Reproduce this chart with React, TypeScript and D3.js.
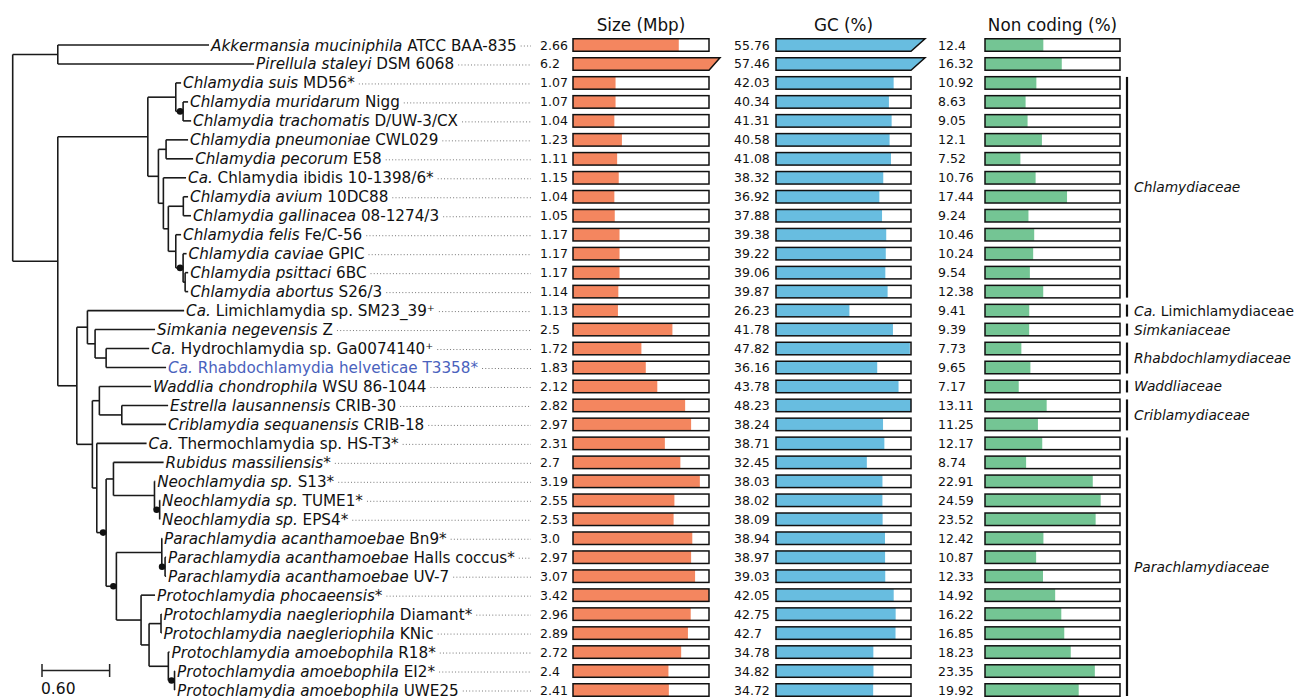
import { useEffect, useRef } from "react";
import * as d3 from "d3";

// tree topology, leaves are row indices, "*" marks the nodes with a dot
const newick =
  "((0:1.342,1:1.742):0.40," +
  "(((2:0.047,(3:0.044,4:0.071)*:0.065):0.248," +
  "((5:0.195,6:0.240):0.068,(7:0.201,((8:0.042,9:0.068):0.133,(10:0.047,(11:0.031,(12:0.027,13:0.027):0.018)*:0.065):0.066):0.044):0.044):0.094):0.799," +
  "((14:0.858,(15:0.532,(16:0.382,17:0.532):0.098):0.068):0.094," +
  "((18:0.459,(19:0.411,20:0.393):0.199):0.062," +
  "(21:0.442,((22:0.445,(23:0.006,(24:0.004,25:0.004)*:0.046):0.364):0.065," +
  "((26:0.002,(27:0.009,28:0.009)*:0.029):0.403,(29:0.124,((30:0.004,31:0.004):0.106,(32:0.011,(33:0.004,34:0.004)*:0.055):0.171):0.071):0.219)*:0.091)*:0.083):0.039):0.138):0.169):0.40);";

const italicNames = [
  "Akkermansia muciniphila", "Pirellula staleyi", "Chlamydia suis", "Chlamydia muridarum",
  "Chlamydia trachomatis", "Chlamydia pneumoniae", "Chlamydia pecorum", "Ca.",
  "Chlamydia avium", "Chlamydia gallinacea", "Chlamydia felis", "Chlamydia caviae",
  "Chlamydia psittaci", "Chlamydia abortus", "Ca.", "Simkania negevensis",
  "Ca.", "Ca.", "Waddlia chondrophila", "Estrella lausannensis",
  "Criblamydia sequanensis", "Ca.", "Rubidus massiliensis*", "Neochlamydia sp.",
  "Neochlamydia sp.", "Neochlamydia sp.", "Parachlamydia acanthamoebae", "Parachlamydia acanthamoebae",
  "Parachlamydia acanthamoebae", "Protochlamydia phocaeensis*", "Protochlamydia naegleriophila", "Protochlamydia naegleriophila",
  "Protochlamydia amoebophila", "Protochlamydia amoebophila", "Protochlamydia amoebophila",
];

const strainNames = [
  " ATCC BAA-835", " DSM 6068", " MD56*", " Nigg",
  " D/UW-3/CX", " CWL029", " E58", " Chlamydia ibidis 10-1398/6*",
  " 10DC88", " 08-1274/3", " Fe/C-56", " GPIC",
  " 6BC", " S26/3", " Limichlamydia sp. SM23_39\u207A", " Z",
  " Hydrochlamydia sp. Ga0074140\u207A", " Rhabdochlamydia helveticae T3358*", " WSU 86-1044", " CRIB-30",
  " CRIB-18", " Thermochlamydia sp. HS-T3*", "", " S13*",
  " TUME1*", " EPS4*", " Bn9*", " Halls coccus*",
  " UV-7", "", " Diamant*", " KNic",
  " R18*", " EI2*", " UWE25",
];

const highlighted = [17];

const genomeSize = [2.66, 6.2, 1.07, 1.07, 1.04, 1.23, 1.11, 1.15, 1.04, 1.05, 1.17, 1.17, 1.17, 1.14,
  1.13, 2.5, 1.72, 1.83, 2.12, 2.82, 2.97, 2.31, 2.7, 3.19, 2.55, 2.53, 3.0, 2.97, 3.07, 3.42,
  2.96, 2.89, 2.72, 2.4, 2.41];
const gcContent = [55.76, 57.46, 42.03, 40.34, 41.31, 40.58, 41.08, 38.32, 36.92, 37.88, 39.38, 39.22,
  39.06, 39.87, 26.23, 41.78, 47.82, 36.16, 43.78, 48.23, 38.24, 38.71, 32.45, 38.03, 38.02, 38.09,
  38.94, 38.97, 39.03, 42.05, 42.75, 42.7, 34.78, 34.82, 34.72];
const nonCoding = [12.4, 16.32, 10.92, 8.63, 9.05, 12.1, 7.52, 10.76, 17.44, 9.24, 10.46, 10.24, 9.54,
  12.38, 9.41, 9.39, 7.73, 9.65, 7.17, 13.11, 11.25, 12.17, 8.74, 22.91, 24.59, 23.52, 12.42, 10.87,
  12.33, 14.92, 16.22, 16.85, 18.23, 23.35, 19.92];
// formatted as printed in the figure
const genomeSizeText = ["2.66", "6.2", "1.07", "1.07", "1.04", "1.23", "1.11", "1.15", "1.04", "1.05",
  "1.17", "1.17", "1.17", "1.14", "1.13", "2.5", "1.72", "1.83", "2.12", "2.82", "2.97", "2.31", "2.7",
  "3.19", "2.55", "2.53", "3.0", "2.97", "3.07", "3.42", "2.96", "2.89", "2.72", "2.4", "2.41"];

const familyItalic = ["Chlamydiaceae", "Ca.", "Simkaniaceae", "Rhabdochlamydiaceae", "Waddliaceae", "Criblamydiaceae", "Parachlamydiaceae"];
const familyRest = ["", " Limichlamydiaceae", "", "", "", "", ""];
const familyFirst = [2, 14, 15, 16, 18, 19, 21];
const familyLast = [13, 14, 15, 17, 18, 20, 34];

const font = "DejaVu Sans";

function parseNewick(s: string) {
  let i = 0;
  const read = (): any => {
    const n: any = { children: [] };
    if (s[i] === "(") {
      i++;
      n.children.push(read());
      while (s[i] === ",") { i++; n.children.push(read()); }
      i++;
    }
    let name = "";
    while (i < s.length && !":,);".includes(s[i])) name += s[i++];
    n.name = name;
    n.length = 0;
    if (s[i] === ":") {
      i++;
      let num = "";
      while (i < s.length && !",);".includes(s[i])) num += s[i++];
      n.length = +num;
    }
    return n;
  };
  return read();
}

const drawChart = (svgEl: SVGSVGElement) => {
  const svg = d3.select(svgEl);
  svg.selectAll("*").remove();

  const y = d3.scaleLinear().domain([0, italicNames.length - 1]).range([45, 690]);
  const x = d3.scaleLinear().domain([0, 1]).range([12.7, 125.4]);

  // arbre
  const root = d3.hierarchy(parseNewick(newick), (d: any) => (d.children.length ? d.children : null));
  root.each((n: any) => { n.dist = (n.parent ? n.parent.dist : 0) + (n.parent ? n.data.length : 0); });
  root.eachAfter((n: any) => {
    if (n.children) n.yy = (n.children[0].yy + n.children[n.children.length - 1].yy) / 2;
    else n.yy = y(+n.data.name);
  });

  const tree = svg.append("g").attr("stroke", "#1a1a1a").attr("stroke-width", 1.6).attr("fill", "none");
  root.descendants().forEach((n: any) => {
    if (n.parent) {
      tree.append("line").attr("x1", x(n.parent.dist)).attr("x2", x(n.dist)).attr("y1", n.yy).attr("y2", n.yy);
    }
    if (n.children) {
      tree.append("line").attr("x1", x(n.dist)).attr("x2", x(n.dist))
        .attr("y1", n.children[0].yy).attr("y2", n.children[n.children.length - 1].yy);
    }
  });
  svg.append("g").selectAll("circle")
    .data(root.descendants().filter((n: any) => n.data.name === "*"))
    .join("circle")
    .attr("cx", (n: any) => x(n.dist) - 3)
    .attr("cy", (n: any) => n.yy)
    .attr("r", 3.3)
    .attr("fill", "#111");

  // étiquettes
  const leaves = root.leaves();
  const labels = svg.append("g").attr("font-family", font).attr("font-size", 15.2);
  leaves.forEach((n: any) => {
    const i = +n.data.name;
    const t = labels.append("text")
      .attr("x", x(n.dist) + 2)
      .attr("y", y(i) + 5.5)
      .attr("fill", highlighted.includes(i) ? "#4a62bd" : "#111")
      .style("white-space", "pre");
    t.append("tspan").attr("font-style", "italic").text(italicNames[i]);
    if (strainNames[i]) t.append("tspan").text(strainNames[i]);
    const end = x(n.dist) + 2 + (t.node() as SVGTextElement).getComputedTextLength();
    svg.append("line")
      .attr("x1", end + 4).attr("x2", 531)
      .attr("y1", y(i) + 1).attr("y2", y(i) + 1)
      .attr("stroke", "#777").attr("stroke-width", 1)
      .attr("stroke-dasharray", "1,2.2");
  });

  // colonnes de barres
  const columns = [
    { title: "Size (Mbp)", values: genomeSize, text: genomeSizeText, textX: 540, scale: d3.scaleLinear().domain([0, 3.42]).range([573, 709]), color: "#f4865f", slant: 11 },
    { title: "GC (%)", values: gcContent, text: gcContent.map(String), textX: 734, scale: d3.scaleLinear().domain([0, 48.23]).range([776, 911]), color: "#68bde0", slant: 14 },
    { title: "Non coding (%)", values: nonCoding, text: nonCoding.map(String), textX: 938, scale: d3.scaleLinear().domain([0, 28.7]).range([985, 1120]), color: "#74c594", slant: 14 },
  ];
  const bh = 12.5;
  columns.forEach(col => {
    const [r0, r1] = col.scale.range();
    const max = col.scale.domain()[1];
    const g = svg.append("g");
    g.append("text")
      .attr("x", (r0 + r1) / 2).attr("y", 31)
      .attr("text-anchor", "middle")
      .attr("font-family", font).attr("font-size", 16.8)
      .attr("fill", "#111")
      .text(col.title);
    col.values.forEach((v, i) => {
      const top = y(i) - bh / 2;
      g.append("text")
        .attr("x", col.textX).attr("y", y(i) + 4.5)
        .attr("font-family", font).attr("font-size", 12.5).attr("fill", "#111")
        .text(col.text[i]);
      if (v > max) {
        g.append("path")
          .attr("d", `M${r0},${top}H${r1 + col.slant}L${r1},${top + bh}H${r0}Z`)
          .attr("fill", col.color).attr("stroke", "#111").attr("stroke-width", 1.5);
      } else {
        g.append("rect").attr("x", r0).attr("y", top).attr("width", r1 - r0).attr("height", bh)
          .attr("fill", "white");
        g.append("rect").attr("x", r0).attr("y", top).attr("width", col.scale(v) - r0).attr("height", bh)
          .attr("fill", col.color);
        g.append("rect").attr("x", r0).attr("y", top).attr("width", r1 - r0).attr("height", bh)
          .attr("fill", "none").attr("stroke", "#111").attr("stroke-width", 1.5);
      }
    });
  });

  // familles
  const fam = svg.append("g").attr("font-family", font).attr("font-size", 13.8).attr("fill", "#111");
  familyItalic.forEach((f, k) => {
    const y0 = y(familyFirst[k]) - 6;
    const y1 = y(familyLast[k]) + 6;
    fam.append("line").attr("x1", 1127).attr("x2", 1127).attr("y1", y0).attr("y2", y1)
      .attr("stroke", "#111").attr("stroke-width", 2.2);
    const t = fam.append("text").attr("x", 1134).attr("y", (y0 + y1) / 2 + 5).style("white-space", "pre");
    t.append("tspan").attr("font-style", "italic").text(f);
    if (familyRest[k]) t.append("tspan").text(familyRest[k]);
  });

  // échelle
  const sx0 = 42;
  const sx1 = sx0 + x(0.6) - x(0);
  const sb = svg.append("g").attr("stroke", "#222").attr("stroke-width", 1.5);
  sb.append("line").attr("x1", sx0).attr("x2", sx1).attr("y1", 670.5).attr("y2", 670.5);
  sb.append("line").attr("x1", sx0).attr("x2", sx0).attr("y1", 664).attr("y2", 677);
  sb.append("line").attr("x1", sx1).attr("x2", sx1).attr("y1", 664).attr("y2", 677);
  svg.append("text").attr("x", sx0 - 1).attr("y", 694)
    .attr("font-family", font).attr("font-size", 15.5).attr("fill", "#111")
    .text("0.60");
};

export default function App() {
  const ref = useRef<SVGSVGElement>(null);
  useEffect(() => {
    if (ref.current) drawChart(ref.current);
  }, []);
  return (
    <svg ref={ref} width={1295} height={698}
      style={{ position: "absolute", left: 0, top: 0, background: "white" }} />
  );
}
